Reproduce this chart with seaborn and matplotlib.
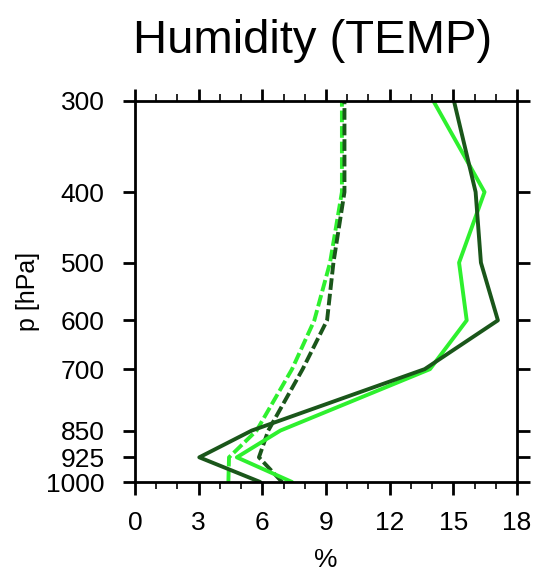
import numpy as np
import pandas as pd
import matplotlib
matplotlib.use("Agg")
import matplotlib.pyplot as plt
import seaborn as sns
from matplotlib.ticker import FixedLocator, NullLocator, MultipleLocator

sns.set_theme(style="white")
plt.rcParams['font.family'] = ['Liberation Sans', 'DejaVu Sans']

levels = [1000, 925, 850, 700, 600, 500, 400, 300]
dark_solid = [5.9, 3.03, 5.5, 13.65, 17.1, 16.3, 16.05, 15.03]
bright_solid = [7.4, 4.8, 6.85, 13.9, 15.63, 15.27, 16.47, 14.06]
dark_dashed = [6.93, 5.84, 6.28, 7.9, 9.05, 9.35, 9.87, 9.87]
bright_dashed = [4.4, 4.43, 5.73, 7.4, 8.45, 9.19, 9.75, 9.75]

x_ticks = [0, 3, 6, 9, 12, 15, 18]
y_ticks = [300, 400, 500, 600, 700, 850, 925, 1000]

DARK = '#1a561a'
BRIGHT = '#2ef02e'

fig = plt.figure(figsize=(5.34, 5.71), dpi=100)
ax = fig.add_axes([135/534, 1-482/571, (517-135)/534, (482-101)/571])

lw = 2.8
series = [
    (bright_dashed, BRIGHT, (3.0, 1.0)),
    (dark_dashed, DARK, (3.0, 1.0)),
    (bright_solid, BRIGHT, None),
    (dark_solid, DARK, None),
]
for vals, col, dash in series:
    df = pd.DataFrame({'val': vals, 'p': levels})
    sns.lineplot(data=df, x='val', y='p', orient='y', sort=False,
                 color=col, lw=lw, ax=ax, legend=False)
    line = ax.lines[-1]
    if dash is not None:
        line.set_dashes(dash)

ax.set_yscale('log')
ax.set_ylim(1000, 300)
ax.set_xlim(0, 18)
ax.yaxis.set_major_locator(FixedLocator(y_ticks))
ax.yaxis.set_minor_locator(NullLocator())
ax.set_yticks(y_ticks)
ax.set_yticklabels([str(v) for v in y_ticks])
ax.set_xticks(x_ticks)
ax.set_xticklabels([str(v) for v in x_ticks])
ax.xaxis.set_minor_locator(MultipleLocator(1))

for s in ax.spines.values():
    s.set_linewidth(2.0)
    s.set_color('black')

ax.tick_params(axis='both', which='major', direction='out', length=9, width=2.0,
               labelsize=19, pad=12, colors='black', labelcolor='black')
ax.tick_params(axis='x', which='minor', direction='out', length=5, width=1.4,
               top=True, bottom=True)
ax.tick_params(axis='x', which='major', top=True, bottom=True)
ax.tick_params(axis='y', which='major', left=True, right=True)
ax.tick_params(axis='y', which='major', pad=13)

ax.set_xlabel('%', fontsize=19, labelpad=9, color='black')
ax.set_ylabel('p [hPa]', fontsize=18, labelpad=4, color='black')

fig.text(312.5/534, 1-53/571, 'Humidity (TEMP)', fontsize=34, ha='center',
         va='baseline', color='black')

fig.savefig('out.png', dpi=100)
